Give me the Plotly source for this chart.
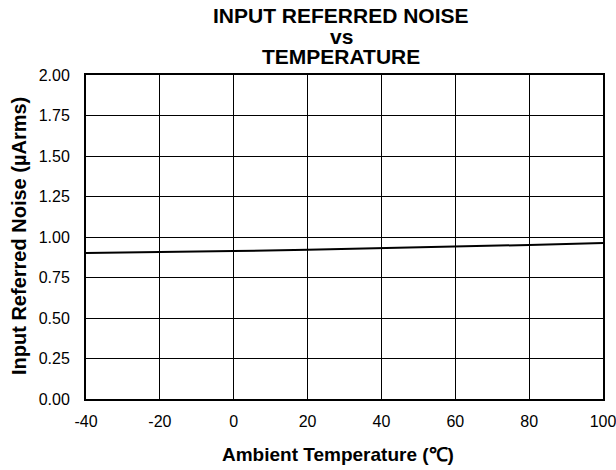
import plotly.graph_objects as go

temperature = [-40, -20, 0, 20, 40, 60, 80, 100]
noise_uarms = [0.901, 0.906, 0.913, 0.921, 0.930, 0.940, 0.951, 0.963]
x_ticks = [-40, -20, 0, 20, 40, 60, 80, 100]
y_ticks = [0.0, 0.25, 0.5, 0.75, 1.0, 1.25, 1.5, 1.75, 2.0]
title_lines = ["INPUT REFERRED NOISE", "vs", "TEMPERATURE"]
x_title = "Ambient Temperature (\u2103)"
y_title = "Input Referred Noise (\u00b5Arms)"

font = "Liberation Sans, Arial, sans-serif"
W, H = 616, 470
L, R, T, B = 86, 13, 75, 71
PW, PH = W - L - R, H - T - B

fig = go.Figure()
fig.add_trace(go.Scatter(x=temperature, y=noise_uarms, mode="lines",
                         line=dict(color="black", width=2), showlegend=False,
                         hoverinfo="skip"))

fig.update_layout(
    width=W, height=H,
    margin=dict(l=L, r=R, t=T, b=B, autoexpand=False),
    paper_bgcolor="white", plot_bgcolor="white",
    font=dict(family=font, color="black", size=16),
)

# title lines (centres in pixels from top)
for text, ypix in zip(title_lines, [15, 36, 56]):
    fig.add_annotation(text=f"<b>{text}</b>", xref="paper", yref="paper",
                       x=(341 - L) / PW, y=1, xanchor="center", yanchor="middle",
                       yshift=T - ypix, showarrow=False,
                       font=dict(family=font, size=21, color="black"))

fig.add_annotation(text=f"<b>{x_title}</b>", xref="paper", yref="paper",
                   x=(338 - L) / PW, y=0, xanchor="center", yanchor="middle",
                   yshift=-(454 - (H - B)), showarrow=False,
                   font=dict(family=font, size=19, color="black"))
fig.add_annotation(text=f"<b>{y_title}</b>", xref="paper", yref="paper",
                   x=0, y=(H - B - 236) / PH, xanchor="center", yanchor="middle",
                   xshift=-(L - 19), textangle=-90, showarrow=False,
                   font=dict(family=font, size=20, color="black"))

fig.update_xaxes(range=[-40, 100], tickvals=x_ticks, ticktext=[str(v) for v in x_ticks],
                 showgrid=True, gridcolor="black", gridwidth=1,
                 showline=True, linecolor="black", linewidth=2, mirror=True,
                 ticks="", zeroline=False, automargin=False, ticklabelstandoff=7,
                 ticklabeloverflow="allow", tickfont=dict(size=16))
fig.update_yaxes(range=[0, 2], tickvals=y_ticks, ticktext=[f"{v:.2f}" for v in y_ticks],
                 showgrid=True, gridcolor="black", gridwidth=1,
                 showline=True, linecolor="black", linewidth=2, mirror=True,
                 ticks="", zeroline=False, automargin=False, ticklabelstandoff=11,
                 ticklabeloverflow="allow", tickfont=dict(size=16))

fig.write_html("out.html", config={"displayModeBar": False},
               post_script="document.body.style.margin='0';document.body.style.overflow='hidden';")
